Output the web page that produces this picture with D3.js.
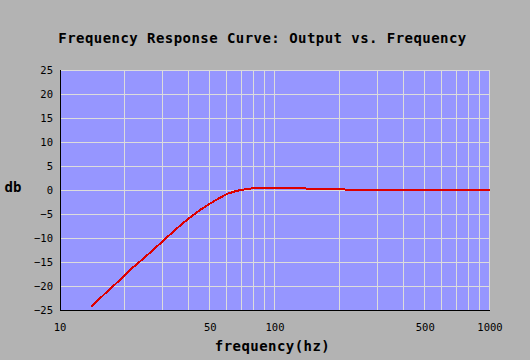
<!DOCTYPE html>
<html><head><meta charset="utf-8">
<script src="https://cdn.jsdelivr.net/npm/d3@7"></script>
<style>
html,body{margin:0;padding:0;background:#b3b3b3;}
svg{display:block;}
text{font-family:"DejaVu Sans Mono",monospace;fill:#000;}
</style></head>
<body>
<svg id="chart" width="530" height="360"></svg>
<script>
const title = "Frequency Response Curve: Output vs. Frequency";
const xTitle = "frequency(hz)";
const yTitle = "db";
const freq = [14, 16, 18, 20, 22, 25, 28, 30, 33, 36, 40, 45, 50, 55, 60, 65, 70, 75, 78, 139, 141, 211, 213, 1000];
const db   = [-24.3, -21.8, -19.7, -17.8, -16.0, -13.9, -11.9, -10.7, -9.0, -7.5, -5.8, -4.1, -2.8, -1.7, -0.8, -0.3, 0.05, 0.2, 0.35, 0.35, 0.17, 0.17, 0.0, 0.0];
const yTicks = [-25, -20, -15, -10, -5, 0, 5, 10, 15, 20, 25];
const xTickLabels = [10, 50, 100, 500, 1000];
const xGrid = [20,30,40,50,60,70,80,90,100,200,300,400,500,600,700,800,900,1000];

const svg = d3.select("#chart");
const x = d3.scaleLog().domain([10, 1000]).range([60, 490]);
const y = d3.scaleLinear().domain([-25, 25]).range([310, 70]);

svg.append("rect").attr("x", 60).attr("y", 70).attr("width", 430).attr("height", 240).attr("fill", "#9696ff");

const g = svg.append("g").attr("shape-rendering", "crispEdges");
g.selectAll("line.hg").data(yTicks.filter(d => d > -25)).join("line")
  .attr("x1", 60).attr("x2", 490)
  .attr("y1", d => Math.round(y(d)) + 0.5).attr("y2", d => Math.round(y(d)) + 0.5)
  .attr("stroke", "#dcdcdc").attr("stroke-width", 1);
g.selectAll("line.vg").data(xGrid).join("line")
  .attr("y1", 70).attr("y2", 310)
  .attr("x1", d => Math.round(x(d)) - 0.5).attr("x2", d => Math.round(x(d)) - 0.5)
  .attr("stroke", "#dcdcdc").attr("stroke-width", 1);

// axes lines
g.append("line").attr("x1", 60.5).attr("x2", 60.5).attr("y1", 70).attr("y2", 311).attr("stroke", "#000").attr("stroke-width", 1.5);
g.append("line").attr("x1", 60).attr("x2", 490).attr("y1", 310.5).attr("y2", 310.5).attr("stroke", "#000").attr("stroke-width", 1.5);

// curve
const pts = freq.map((f, i) => [f, db[i]]);
svg.append("path").datum(pts)
  .attr("d", d3.line().x(d => x(d[0])).y(d => y(d[1])))
  .attr("fill", "none").attr("stroke", "#dd0000").attr("stroke-width", 2)
  .attr("shape-rendering", "crispEdges");

// y tick labels
svg.selectAll("text.yt").data(yTicks).join("text")
  .attr("x", 53).attr("y", d => y(d) + 4)
  .attr("text-anchor", "end").attr("font-size", "10.5px")
  .text(d => d < 0 ? "\u2212" + Math.abs(d) : d);

// x tick labels
svg.selectAll("text.xt").data(xTickLabels).join("text")
  .attr("x", d => x(d)).attr("y", 331)
  .attr("text-anchor", "middle").attr("font-size", "10.5px")
  .text(d => d);

svg.append("text").attr("x", 262.5).attr("y", 43).attr("text-anchor", "middle")
  .attr("font-size", "14px").attr("letter-spacing", "0.45px").attr("font-weight", "bold").text(title);
svg.append("text").attr("x", 272.5).attr("y", 351).attr("text-anchor", "middle")
  .attr("font-size", "14px").attr("letter-spacing", "0.45px").attr("font-weight", "bold").text(xTitle);
svg.append("text").attr("x", 13).attr("y", 192).attr("text-anchor", "middle")
  .attr("font-size", "14px").attr("font-weight", "bold").text(yTitle);
</script>
</body></html>
